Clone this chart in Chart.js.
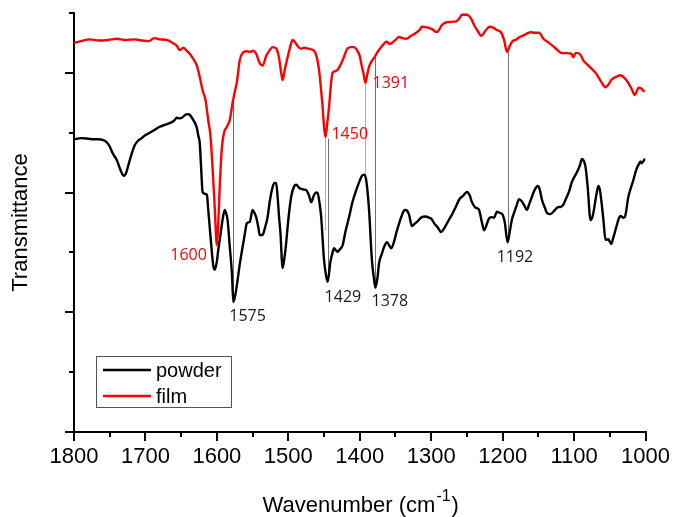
<!DOCTYPE html>
<html>
<head>
<meta charset="utf-8">
<script src="https://cdn.jsdelivr.net/npm/chart.js@4.4.1/dist/chart.umd.min.js"></script>
<style>
  html, body { margin: 0; padding: 0; background: #fff; }
</style>
</head>
<body>
<canvas id="ir" width="673" height="517"></canvas>
<script>
// Spectra: wavenumber (cm-1) and transmittance (arb. units, 0-7 axis)
const filmWn = [1800,1790,1778,1765,1752,1740,1728,1715,1705,1695,1688,1680,1670,1662,1656,1652,1647,1643,1638,1634,
  1628,1624,1620,1616,1612,1609,1606,1603,1600,1598,1596,1593,1590,1586,1582,1578,1575,1572,1568,1564,
  1558,1554,1549,1545,1540,1536,1531,1526,1522,1517,1513,1510,1508,1505,1501,1497,1494,1491,1487,1482,
  1478,1471,1464,1460,1457,1454,1452,1450,1448,1446,1443,1440,1438,1434,1431,1424,1417,1412,1408,1404,
  1400,1398,1395,1392,1389,1387,1383,1380,1375,1370,1365,1362,1358,1355,1350,1345,1340,1335,1328,1321,
  1316,1313,1306,1299,1292,1288,1285,1280,1275,1265,1260,1257,1250,1247,1243,1240,1235,1230,1223,1218,
  1214,1209,1202,1198,1194,1190,1186,1182,1176,1170,1161,1155,1149,1143,1135,1126,1117,1110,1104,1101,
  1098,1094,1090,1087,1080,1070,1062,1056,1052,1048,1042,1035,1030,1024,1019,1015,1012,1010,1006,1003,1001];
const filmT = [6.50,6.53,6.56,6.54,6.55,6.57,6.55,6.56,6.54,6.53,6.58,6.56,6.55,6.50,6.45,6.38,6.42,6.38,6.32,6.25,
  6.12,5.93,5.71,5.55,5.20,4.95,4.40,3.75,3.12,3.50,4.10,4.75,5.00,5.10,5.21,5.50,5.68,5.85,6.21,6.33,
  6.36,6.35,6.37,6.32,6.16,6.12,6.28,6.38,6.43,6.41,6.25,6.00,5.88,6.05,6.26,6.45,6.55,6.52,6.45,6.40,
  6.42,6.40,6.37,6.25,6.05,5.70,5.43,5.10,4.93,5.10,5.43,5.85,6.00,6.03,6.05,6.21,6.41,6.43,6.43,6.38,
  6.28,6.16,6.00,5.83,6.00,6.10,6.20,6.25,6.35,6.43,6.50,6.52,6.48,6.50,6.55,6.60,6.58,6.57,6.62,6.67,
  6.72,6.77,6.76,6.73,6.68,6.74,6.80,6.84,6.85,6.86,6.92,6.97,6.97,6.95,6.88,6.80,6.70,6.62,6.72,6.77,
  6.76,6.72,6.67,6.55,6.35,6.45,6.53,6.55,6.60,6.63,6.68,6.67,6.67,6.57,6.50,6.41,6.33,6.33,6.32,6.26,
  6.33,6.33,6.28,6.21,6.12,6.00,5.85,5.76,5.80,5.88,5.93,5.96,5.92,5.83,5.72,5.63,5.70,5.75,5.74,5.70,5.69];

const powderWn = [1800,1790,1780,1773,1766,1760,1754,1750,1746,1740,1736,1732,1730,1727,1725,1720,1715,1710,1705,1700,
  1694,1687,1680,1673,1666,1660,1656,1652,1648,1644,1641,1638,1635,1631,1628,1626,1624,1622,1620,1617,
  1614,1612,1610,1607,1605,1603,1600,1598,1596,1592,1589,1587,1585,1582,1579,1577,1574,1571,1568,1564,
  1561,1558,1554,1550,1547,1545,1542,1540,1536,1533,1529,1526,1522,1519,1517,1515,1513,1511,1508,1505,
  1503,1500,1496,1492,1489,1485,1482,1478,1475,1471,1468,1464,1461,1459,1456,1454,1450,1447,1445,1441,
  1438,1436,1433,1431,1428,1424,1420,1415,1410,1405,1400,1397,1394,1391,1387,1383,1380,1378,1375,1373,
  1369,1366,1362,1359,1356,1352,1349,1345,1342,1337,1334,1331,1327,1323,1320,1313,1308,1303,1299,1296,
  1291,1286,1282,1279,1275,1271,1266,1261,1255,1250,1246,1243,1239,1236,1233,1229,1226,1222,1219,1216,
  1212,1208,1204,1200,1197,1193,1190,1187,1184,1180,1177,1173,1170,1166,1163,1159,1155,1151,1148,1145,
  1141,1138,1133,1126,1122,1119,1115,1112,1107,1103,1096,1092,1089,1086,1084,1081,1077,1075,1073,1069,
  1066,1064,1062,1059,1056,1052,1050,1048,1045,1041,1037,1035,1031,1029,1024,1017,1013,1010,1007,1006,
  1004,1002,1001];
const powderT = [4.89,4.91,4.90,4.89,4.89,4.88,4.84,4.77,4.66,4.54,4.41,4.30,4.28,4.33,4.41,4.62,4.79,4.87,4.91,4.96,
  5.00,5.05,5.10,5.13,5.16,5.20,5.25,5.24,5.26,5.30,5.31,5.30,5.25,5.17,5.08,4.95,4.83,4.40,4.01,3.98,
  3.96,3.70,3.42,3.00,2.78,2.71,2.85,3.05,3.21,3.55,3.71,3.65,3.54,3.10,2.66,2.17,2.30,2.54,2.80,3.09,
  3.30,3.49,3.51,3.71,3.65,3.59,3.42,3.29,3.29,3.40,3.59,3.85,4.09,4.16,4.16,3.93,3.60,3.32,2.74,2.95,
  3.16,3.55,3.93,4.10,4.13,4.08,4.06,4.05,4.04,3.95,3.84,3.96,4.00,3.99,3.80,3.59,2.87,2.60,2.51,2.85,
  3.00,3.07,3.03,3.01,3.05,3.12,3.35,3.59,3.85,4.04,4.20,4.28,4.30,4.21,3.71,2.87,2.55,2.41,2.60,2.82,
  2.98,3.09,3.17,3.12,3.07,3.18,3.32,3.48,3.59,3.71,3.70,3.63,3.44,3.48,3.51,3.59,3.60,3.58,3.55,3.49,
  3.42,3.34,3.40,3.46,3.55,3.63,3.75,3.88,3.95,4.01,3.95,3.84,3.76,3.74,3.71,3.50,3.37,3.48,3.57,3.59,
  3.58,3.68,3.66,3.63,3.50,3.17,3.35,3.55,3.66,3.80,3.89,3.85,3.79,3.71,3.80,3.93,4.05,4.11,4.05,3.88,
  3.75,3.66,3.64,3.72,3.76,3.76,3.80,3.88,4.02,4.18,4.34,4.45,4.56,4.52,4.43,4.10,3.54,3.57,3.66,3.95,
  4.11,4.05,3.88,3.55,3.21,3.22,3.18,3.14,3.25,3.42,3.58,3.61,3.58,3.59,3.93,4.21,4.38,4.46,4.52,4.49,
  4.51,4.54,4.57];

// axis ticks
const xMajor = [1800,1700,1600,1500,1400,1300,1200,1100,1000];
const xMinor = [1750,1650,1550,1450,1350,1250,1150,1050];
const yMajor = [0,2,4,6];
const yMinor = [1,3,5,7];

// peak annotations: label text, where it hangs (wavenumber, transmittance), which spectrum
const peakLabels = ['1600','1575','1450','1391','1429','1378','1192'];
const peakWn     = [1600, 1577, 1448, 1392, 1445, 1378, 1193];
const peakT      = [3.12, 2.17, 4.93, 5.83, 2.51, 2.41, 3.17];
const peakFilm   = [true, false, true, true, false, false, false];

// thin guide lines between the two spectra
const guideWn     = [1577, 1449, 1444, 1392, 1378, 1193];
const guideTop    = [5.66, 4.93, 4.90, 5.83, 6.26, 6.35];
const guideBottom = [2.17, 3.37, 2.51, 4.29, 2.41, 3.17];
const guideFilm   = [false, true, false, true, false, false];

const toPts = (xs, ys) => xs.map((v, i) => ({x: v, y: ys[i]}));

const FONT = '"Liberation Sans", Arial, sans-serif';

const decor = {
  id: 'decor',
  beforeDatasetsDraw(chart) {
    const {ctx, scales: {x, y}} = chart;
    ctx.save();
    ctx.lineWidth = 1;
    guideWn.forEach((wn, i) => {
      const px = Math.round(x.getPixelForValue(wn)) + 0.5;
      ctx.strokeStyle = guideFilm[i] ? '#ff8a8a' : '#6e6e6e';
      ctx.beginPath();
      ctx.moveTo(px, y.getPixelForValue(guideTop[i]));
      ctx.lineTo(px, y.getPixelForValue(guideBottom[i]));
      ctx.stroke();
    });
    ctx.restore();
  },
  afterDraw(chart) {
    const {ctx, chartArea: ca, scales: {x, y}} = chart;
    ctx.save();

    // minor ticks
    ctx.strokeStyle = '#000';
    ctx.lineWidth = 2;
    xMinor.forEach(v => {
      const px = Math.round(x.getPixelForValue(v));
      ctx.beginPath(); ctx.moveTo(px, ca.bottom); ctx.lineTo(px, ca.bottom + 5); ctx.stroke();
    });
    yMinor.forEach(v => {
      const py = Math.round(y.getPixelForValue(v));
      ctx.beginPath(); ctx.moveTo(ca.left, py); ctx.lineTo(ca.left - 5, py); ctx.stroke();
    });

    // peak labels
    const offs = [[-10, 10, 'right'], [-4, 14, 'left'], [6, -2, 'left'], [7, 0, 'left'],
                  [-3, 16, 'left'], [-4, 14, 'left'], [-11, 15, 'left']];
    ctx.font = '16px "Open Sans", "Noto Sans", sans-serif';
    ctx.textBaseline = 'middle';
    peakLabels.forEach((t, i) => {
      const px = x.getPixelForValue(peakWn[i]);
      const py = y.getPixelForValue(peakT[i]);
      ctx.fillStyle = peakFilm[i] ? '#ff0000' : '#1a1a1a';
      ctx.textAlign = offs[i][2];
      ctx.fillText(t, px + offs[i][0], py + offs[i][1]);
    });

    // legend box
    ctx.strokeStyle = '#555';
    ctx.lineWidth = 1;
    ctx.strokeRect(96.5, 356.5, 135, 51);
    ctx.font = '20px ' + FONT;
    ctx.textAlign = 'left';
    chart.data.datasets.forEach((ds, i) => {
      const ly = 370 + i * 26;
      ctx.strokeStyle = ds.borderColor;
      ctx.lineWidth = 2.5;
      ctx.beginPath(); ctx.moveTo(103, ly); ctx.lineTo(151, ly); ctx.stroke();
      ctx.fillStyle = '#000';
      ctx.fillText(ds.label, 156, ly + 1);
    });

    // x axis title with superscript
    const main = 'Wavenumber (cm', sup = '-1', close = ')';
    ctx.font = '22px ' + FONT;
    const w1 = ctx.measureText(main).width, w3 = ctx.measureText(close).width;
    ctx.font = '16px ' + FONT;
    const w2 = ctx.measureText(sup).width;
    let tx = (ca.left + ca.right) / 2 - (w1 + w2 + w3) / 2;
    ctx.textBaseline = 'alphabetic';
    ctx.fillStyle = '#000';
    ctx.font = '22px ' + FONT;
    ctx.fillText(main, tx, 512);
    ctx.font = '16px ' + FONT;
    ctx.fillText(sup, tx + w1 + 1, 501);
    ctx.font = '22px ' + FONT;
    ctx.fillText(close, tx + w1 + w2 + 2, 512);
    ctx.restore();
  }
};

const ctx = document.getElementById('ir').getContext('2d');
const irChart = new Chart(ctx, {
  type: 'line',
  data: {
    datasets: [
      {label: 'powder', data: toPts(powderWn, powderT), borderColor: '#000000', order: 1},
      {label: 'film', data: toPts(filmWn, filmT), borderColor: '#ff0000', order: 0}
    ]
  },
  options: {
    responsive: false,
    animation: false,
    parsing: true,
    elements: {
      point: {radius: 0},
      line: {borderWidth: 2.4, cubicInterpolationMode: 'monotone', fill: false}
    },
    layout: {padding: {top: 13, right: 26, left: 0, bottom: 0}},
    plugins: {legend: {display: false}, tooltip: {enabled: false}},
    scales: {
      x: {
        type: 'linear',
        reverse: true,
        min: 1000,
        max: 1800,
        afterBuildTicks: s => { s.ticks = xMajor.map(v => ({value: v})); },
        afterFit: s => { s.height = 85; },
        ticks: {
          color: '#000',
          font: {family: FONT, size: 22},
          padding: 3,
          maxRotation: 0,
          autoSkip: false,
          callback: v => String(v)
        },
        grid: {display: true, drawOnChartArea: false, drawTicks: true, tickLength: 9,
               tickColor: '#000', tickWidth: 2, lineWidth: 2, color: '#000'},
        border: {display: true, color: '#000', width: 2}
      },
      y: {
        type: 'linear',
        min: 0,
        max: 7,
        afterBuildTicks: s => { s.ticks = yMajor.map(v => ({value: v})); },
        afterFit: s => { s.width = 74; },
        ticks: {display: false},
        title: {display: true, text: 'Transmittance', color: '#000',
                font: {family: FONT, size: 22}, padding: {top: 8, bottom: 0}},
        grid: {display: true, drawOnChartArea: false, drawTicks: true, tickLength: 9,
               tickColor: '#000', tickWidth: 2, lineWidth: 2, color: '#000'},
        border: {display: true, color: '#000', width: 2}
      }
    }
  },
  plugins: [decor]
});
</script>
</body>
</html>
